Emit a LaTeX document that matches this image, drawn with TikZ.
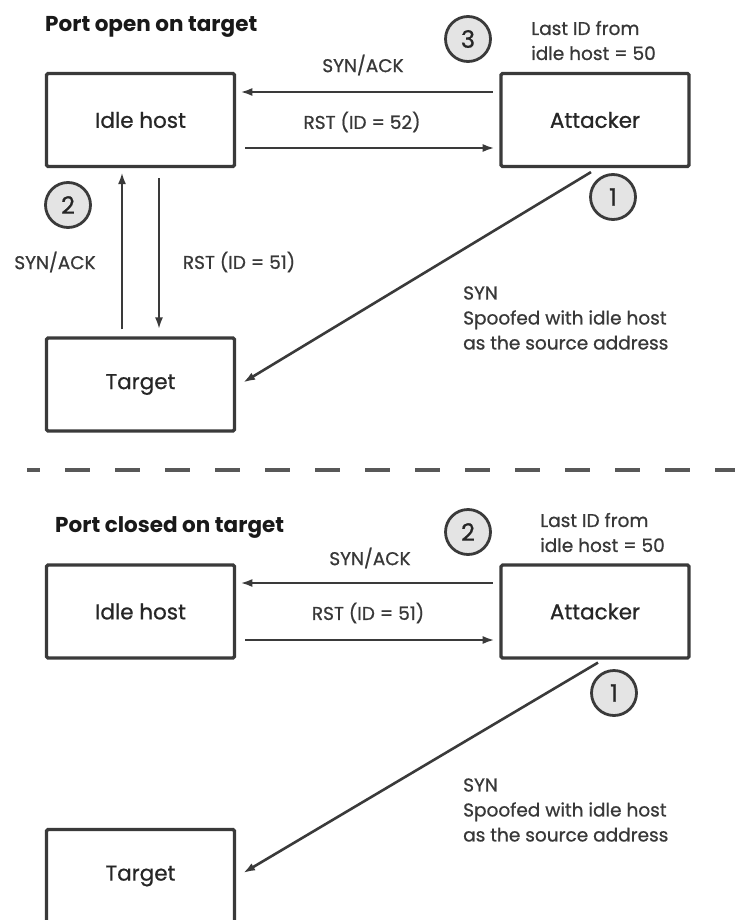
\documentclass[tikz,border=0pt]{standalone}
\usepackage{fontspec}
\setmainfont{Poppins}
\newfontfamily\labfont[FakeBold=0.8]{Poppins}
\usetikzlibrary{arrows.meta}
\definecolor{inkgray}{HTML}{3A3A3A}
\definecolor{txtgray}{HTML}{383838}
\definecolor{numfill}{HTML}{E4E4E4}

\begin{document}
\begin{tikzpicture}[x=1pt, y=-1pt, >={Latex[length=12pt,width=8pt]}]
    \tikzstyle{hnode} = [draw=inkgray, line width=3.2pt, rectangle, rounded corners=1.5pt, minimum width=188pt, minimum height=93pt, inner sep=0pt, font=\labfont\fontsize{21.5}{24}\selectfont, text=black!85]
    \tikzstyle{snode} = [draw=inkgray, line width=2.8pt, circle, fill=numfill, minimum size=45pt, inner sep=0pt, font=\labfont\fontsize{24}{24}\selectfont, text=black!85]
    \tikzstyle{tnode} = [inner sep=0pt, anchor=west, font=\fontsize{21.5}{24}\selectfont\bfseries, text=black!90]
    \tikzstyle{lnode} = [inner sep=0pt, font=\labfont\fontsize{18.5}{25}\selectfont, text=txtgray, align=left]
    \tikzstyle{msg} = [->, draw=inkgray, line width=2.6pt]
    \useasboundingbox (0,0) rectangle (735,920);

    % port open
    \begin{scope}
    \node[tnode] (ti0) at (45,27) {Port open on target};
    \node[hnode] (ih0) at (140.5,120) {Idle host};
    \node[hnode] (at0) at (595,120) {Attacker};
    \node[hnode] (tg0) at (140.5,384.5) {Target};
    \node[snode] (n03) at (468,39) {3};
    \node[snode] (n02) at (68,205) {2};
    \node[snode] (n01) at (613,197) {1};
    \node[lnode, anchor=west] (id0) at (531,40.5) {Last ID from\\idle host = 50};
    \node[lnode] (sa0) at (363,65) {SYN/ACK};
    \node[lnode] (rs0) at (362,122) {RST (ID = 52)};
    \node[lnode] (sb0) at (55,262) {SYN/ACK};
    \node[lnode] (rb0) at (239,262) {RST (ID = 51)};
    \node[lnode, anchor=west] (sy0) at (463,318) {SYN\\Spoofed with idle host\\as the source address};

    \draw[msg] ([xshift=-6.7pt, yshift=28pt]at0.west) -- ([xshift=4.2pt, yshift=28pt]ih0.east);
    \draw[msg] ([xshift=9pt, yshift=-28pt]ih0.east) -- ([xshift=-4.7pt, yshift=-28pt]at0.west);
    \draw[msg] ([xshift=-18.5pt, yshift=7pt]tg0.north) -- ([xshift=-18.5pt, yshift=-4pt]ih0.south);
    \draw[msg] ([xshift=18.5pt, yshift=-10pt]ih0.south) -- ([xshift=18.5pt, yshift=7pt]tg0.north);
    \draw[msg] ([xshift=-4pt, yshift=-4pt]at0.south) -- ([xshift=7pt, yshift=2pt]tg0.east);
    \end{scope}

    % separator
    \coordinate (sl) at (27,470);
    \coordinate (sr) at (735,470);
    \draw[draw=inkgray!85, line width=3.5pt, dash pattern=on 25pt off 25pt, dash phase=12pt] (sl) -- (sr);

    % port closed
    \begin{scope}[yshift=-491.5pt]
    \node[tnode] (ti1) at (55,35.5) {Port closed on target};
    \node[hnode] (ih1) at (140.5,120) {Idle host};
    \node[hnode] (at1) at (595,120) {Attacker};
    \node[hnode] (tg1) at (140.5,384.5) {Target};
    \node[snode] (n12) at (468,40.5) {2};
    \node[snode] (n11) at (614,201.5) {1};
    \node[lnode, anchor=west] (id1) at (540,41) {Last ID from\\idle host = 50};
    \node[lnode] (sa1) at (370,66.5) {SYN/ACK};
    \node[lnode] (rs1) at (368,121.5) {RST (ID = 51)};
    \node[lnode, anchor=west] (sy1) at (463,318.5) {SYN\\Spoofed with idle host\\as the source address};

    \draw[msg] ([xshift=-6.7pt, yshift=28.5pt]at1.west) -- ([xshift=4.2pt, yshift=28.5pt]ih1.east);
    \draw[msg] ([xshift=9pt, yshift=-28.5pt]ih1.east) -- ([xshift=-4.7pt, yshift=-28.5pt]at1.west);
    \draw[msg] ([xshift=3pt, yshift=-3pt]at1.south) -- ([xshift=7pt, yshift=3pt]tg1.east);
    \end{scope}
\end{tikzpicture}
\end{document}
